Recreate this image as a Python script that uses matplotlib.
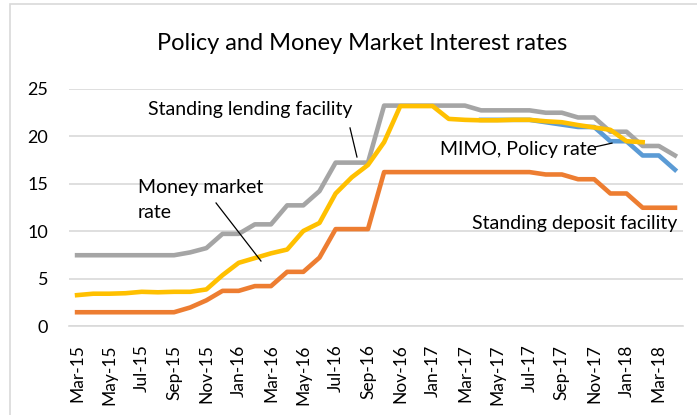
import matplotlib
matplotlib.use("Agg")
import matplotlib.pyplot as plt
import numpy as np
from matplotlib.patches import Rectangle

plt.rcParams['font.family'] = ['Lato', 'DejaVu Sans']

# monthly categories, Mar-15 .. Apr-18
months = ["Mar-15", "Apr-15", "May-15", "Jun-15", "Jul-15", "Aug-15", "Sep-15",
          "Oct-15", "Nov-15", "Dec-15", "Jan-16", "Feb-16", "Mar-16", "Apr-16",
          "May-16", "Jun-16", "Jul-16", "Aug-16", "Sep-16", "Oct-16", "Nov-16",
          "Dec-16", "Jan-17", "Feb-17", "Mar-17", "Apr-17", "May-17", "Jun-17",
          "Jul-17", "Aug-17", "Sep-17", "Oct-17", "Nov-17", "Dec-17", "Jan-18",
          "Feb-18", "Mar-18", "Apr-18"]

lending = [7.5, 7.5, 7.5, 7.5, 7.5, 7.5, 7.5,
           7.8, 8.25, 9.75, 9.75, 10.75, 10.75, 12.75, 12.75, 14.25, 17.25, 17.25, 17.25,
           23.25, 23.25, 23.25, 23.25, 23.25, 23.25,
           22.75, 22.75, 22.75, 22.75, 22.5, 22.5, 22.0, 22.0, 20.5, 20.5, 19.0, 19.0, 18.0]

deposit = [1.5, 1.5, 1.5, 1.5, 1.5, 1.5, 1.5,
           2.0, 2.75, 3.75, 3.75, 4.25, 4.25, 5.75, 5.75, 7.25, 10.25, 10.25, 10.25,
           16.25, 16.25, 16.25, 16.25, 16.25, 16.25, 16.25, 16.25, 16.25, 16.25,
           16.0, 16.0, 15.5, 15.5, 14.0, 14.0, 12.5, 12.5, 12.5]

money_market = [3.3, 3.45, 3.45, 3.5, 3.65, 3.6, 3.65, 3.65, 3.9,
                5.4, 6.7, 7.2, 7.7, 8.1, 10.05, 10.9, 14.0, 15.7, 17.0, 19.4,
                23.2, 23.2, 23.2, 21.85, 21.75, 21.7, 21.7, 21.75, 21.75,
                21.6, 21.5, 21.2, 20.95, 20.7, 19.5, 19.4, np.nan, np.nan]

mimo = [np.nan] * 25 + [21.75, 21.75, 21.75, 21.75, 21.5, 21.25,
                        21.0, 21.0, 19.5, 19.5, 18.0, 18.0, 16.5]

x = np.arange(len(months))

fig = plt.figure(figsize=(6.97, 4.15), dpi=100)
ax = fig.add_axes([0.099, 0.2133, 0.881, 0.5723])

# outer chart frame (clipped at right / bottom like the source)
fig.patches.append(Rectangle((10 / 697, -0.1), 1.2, 1.1 - 4.5 / 415,
                             transform=fig.transFigure, fill=False,
                             edgecolor='#d9d9d9', linewidth=1.2))

lw = 3.3
ax.plot(x, deposit, color='#ED7D31', lw=lw, solid_joinstyle='round', zorder=3)
ax.plot(x, lending, color='#A5A5A5', lw=lw, solid_joinstyle='round', zorder=3)
ax.plot(x, mimo, color='#5B9BD5', lw=lw, solid_joinstyle='round', zorder=3)
ax.plot(x, money_market, color='#FFC000', lw=lw, solid_joinstyle='round', zorder=4)

ax.set_xlim(-0.5, len(months) - 0.5)
ax.set_ylim(0, 25)
ax.set_yticks([0, 5, 10, 15, 20, 25])
ax.set_xticks(x[::2])
ax.set_xticklabels(months[::2], rotation=90, fontsize=12.5)
ax.tick_params(axis='y', labelsize=13, length=0, pad=15)
ax.tick_params(axis='x', length=0, pad=13)
ax.grid(axis='y', color='#d9d9d9', lw=1.2)
ax.set_axisbelow(True)
for side in ['top', 'right', 'left']:
    ax.spines[side].set_visible(False)
ax.spines['bottom'].set_color('#d9d9d9')
ax.spines['bottom'].set_linewidth(1.2)

fig.text(0.519, 0.896, "Policy and Money Market Interest rates",
         ha='center', va='center', fontsize=17)

# annotations with leader lines
ax.text(10.73, 22.8, "Standing lending facility", ha='center', va='center', fontsize=14)
ax.plot([16.89, 17.32], [20.9, 17.84], color='black', lw=0.9, zorder=5)

ax.text(3.77, 14.58, "Money market", ha='left', va='center', fontsize=14)
ax.text(3.77, 12.05, "rate", ha='left', va='center', fontsize=14)
ax.plot([8.6, 11.38], [13.0, 6.89], color='black', lw=0.9, zorder=5)

ax.text(22.46, 18.58, "MIMO, Policy rate", ha='left', va='center', fontsize=14)
ax.plot([32.05, 33.1], [18.9, 19.3], color='black', lw=0.9, zorder=5)

ax.text(37.12, 10.79, "Standing deposit facility", ha='right', va='center', fontsize=14)

fig.savefig("out.png", dpi=100)
